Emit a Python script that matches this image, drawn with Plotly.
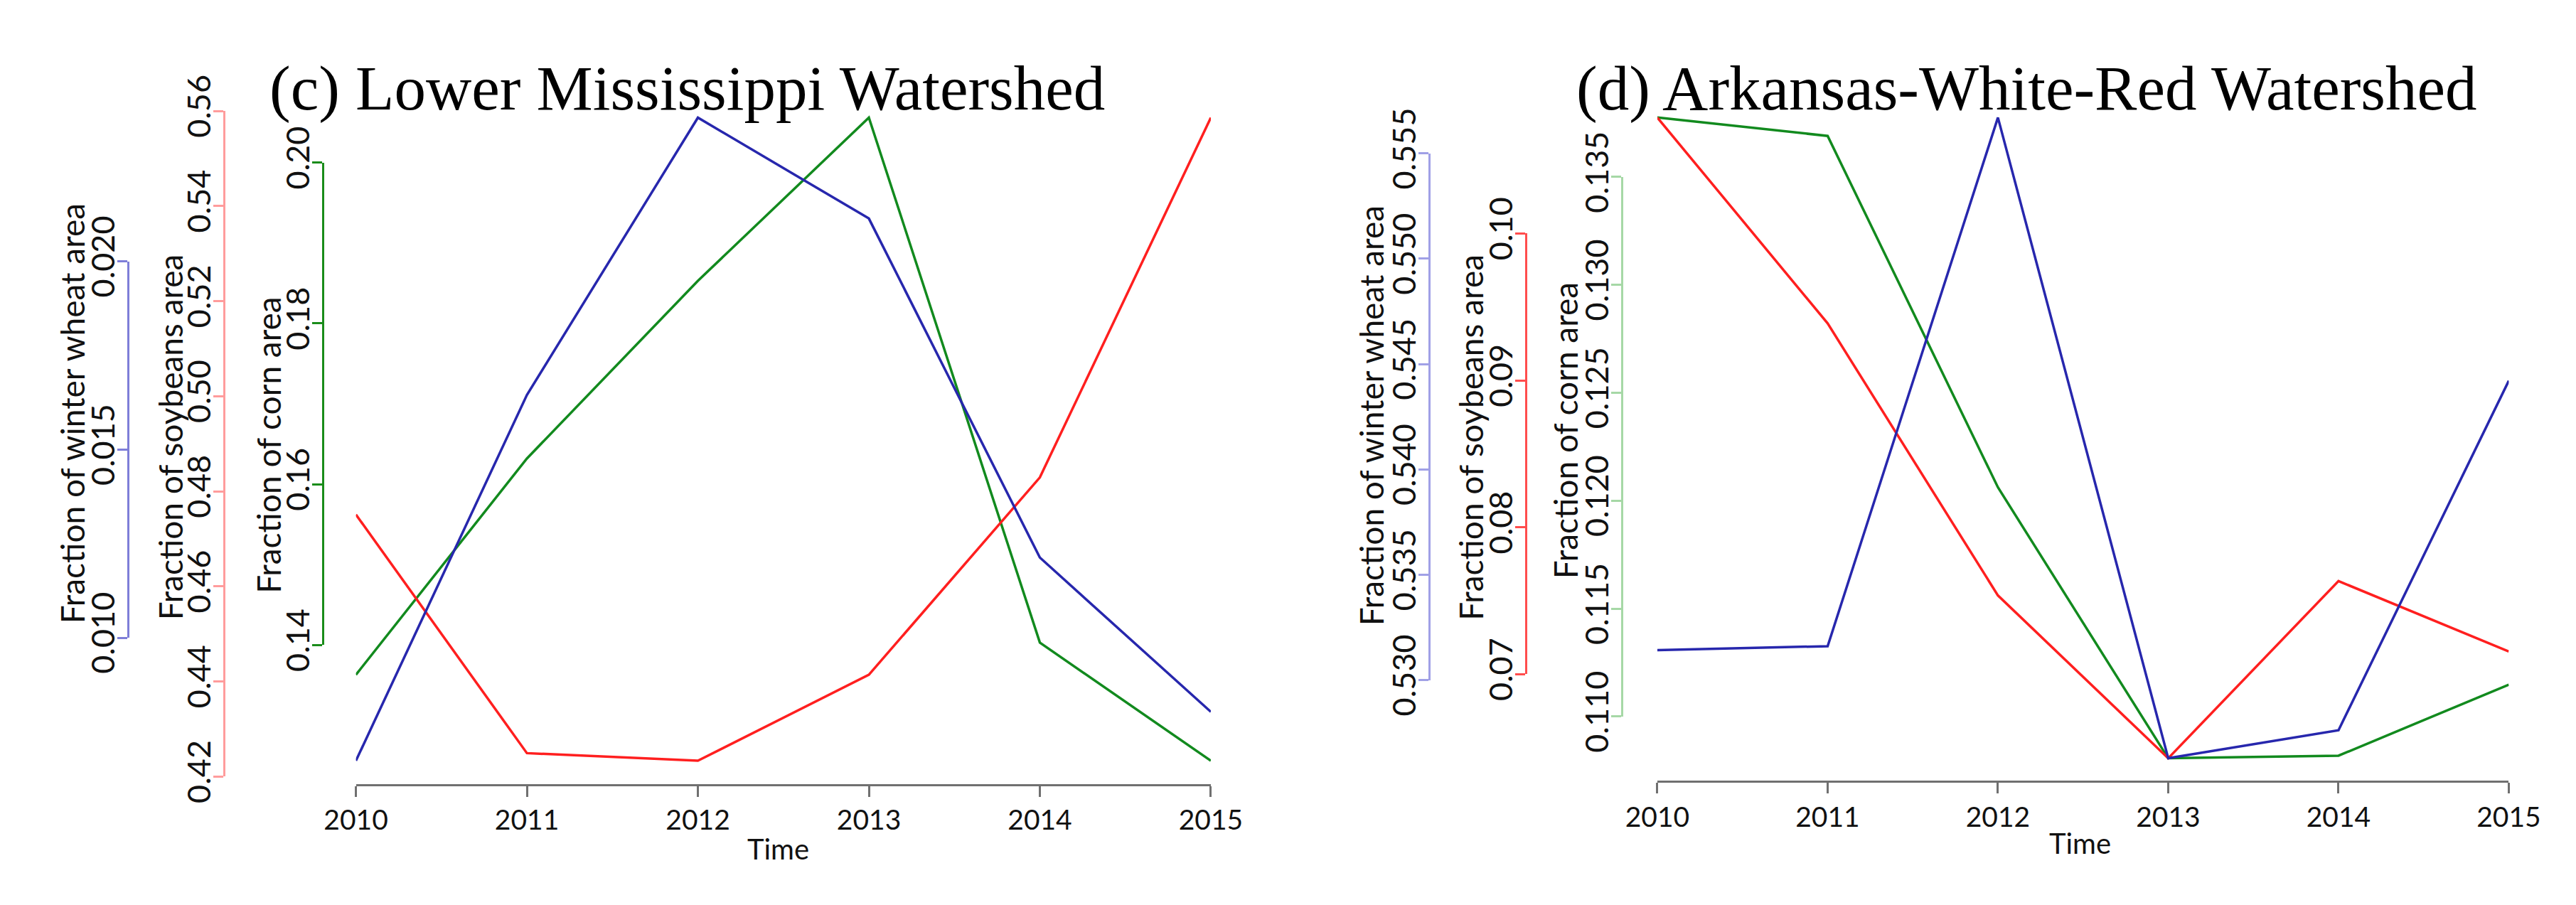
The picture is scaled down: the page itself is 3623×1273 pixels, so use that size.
import plotly.graph_objects as go

W, H = 3623, 1273

years = [2010, 2011, 2012, 2013, 2014, 2015]

# (c) Lower Mississippi Watershed
c_corn = [0.1363, 0.1632, 0.1853, 0.2056, 0.1403, 0.1256]
c_soy = [0.4751, 0.4249, 0.4233, 0.4414, 0.4829, 0.5586]
c_wheat = [0.00673, 0.01645, 0.02382, 0.02114, 0.01213, 0.00803]

# (d) Arkansas-White-Red Watershed
d_corn = [0.13775, 0.13690, 0.12062, 0.10807, 0.10819, 0.11148]
d_soy = [0.10789, 0.09388, 0.07536, 0.06428, 0.07634, 0.07155]
d_wheat = [0.53142, 0.53161, 0.55670, 0.52629, 0.52762, 0.54421]

c_corn_ticks = [0.14, 0.16, 0.18, 0.20]
c_soy_ticks = [0.42, 0.44, 0.46, 0.48, 0.50, 0.52, 0.54, 0.56]
c_wheat_ticks = [0.010, 0.015, 0.020]
d_corn_ticks = [0.110, 0.115, 0.120, 0.125, 0.130, 0.135]
d_soy_ticks = [0.07, 0.08, 0.09, 0.10]
d_wheat_ticks = [0.530, 0.535, 0.540, 0.545, 0.550, 0.555]

titles = ["(c) Lower Mississippi Watershed", "(d) Arkansas-White-Red Watershed"]
ytitles = ["Fraction of corn area", "Fraction of soybeans area", "Fraction of winter wheat area"]

BLUE, RED, GREEN = "#2727ad", "#ff1f1f", "#128a1e"
TICKFONT = "Lato"

panels = [
    dict(x0=459, x1=1692, top=63, bottom=1137, xline=1134, title_x=332, title_y=57,
         time_x=1068, time_y=1233,
         series=[
             dict(vals=c_corn, color=GREEN, acolor="#1a8c1a", ticks=c_corn_ticks, fmt="%.2f",
                  ax=411, tx=333, ty=609, title=ytitles[0]),
             dict(vals=c_soy, color=RED, acolor="#ff9c9c", ticks=c_soy_ticks, fmt="%.2f",
                  ax=269, tx=191, ty=597, title=ytitles[1]),
             dict(vals=c_wheat, color=BLUE, acolor="#7e7ed8", ticks=c_wheat_ticks, fmt="%.3f",
                  ax=130, tx=50, ty=560, title=ytitles[2]),
         ]),
    dict(x0=2336, x1=3564, top=63, bottom=1133, xline=1129, title_x=2217, title_y=57,
         time_x=2946, time_y=1225,
         series=[
             dict(vals=d_corn, color=GREEN, acolor="#a6d8a6", ticks=d_corn_ticks, fmt="%.3f",
                  ax=2285, tx=2204, ty=587, title=ytitles[0]),
             dict(vals=d_soy, color=RED, acolor="#ff4d4d", ticks=d_soy_ticks, fmt="%.2f",
                  ax=2146, tx=2066, ty=597, title=ytitles[1]),
             dict(vals=d_wheat, color=BLUE, acolor="#a0a0e6", ticks=d_wheat_ticks, fmt="%.3f",
                  ax=2007, tx=1923, ty=564, title=ytitles[2]),
         ]),
]


def padded(vals):
    lo, hi = min(vals), max(vals)
    p = 0.04 * (hi - lo)
    return lo - p, hi + p


def yname(n):
    return "y" if n == 1 else f"y{n}"


def ykey(n):
    return "yaxis" if n == 1 else f"yaxis{n}"


fig = go.Figure()
lay = {}
annotations = []
yn = 0

for pi, P in enumerate(panels):
    xref = "x" if pi == 0 else "x2"
    xkey = "xaxis" if pi == 0 else "xaxis2"
    dom = [1 - P["bottom"] / H, 1 - P["top"] / H]
    main = None
    lay[xkey] = dict(
        domain=[P["x0"] / W, P["x1"] / W], range=[years[0], years[-1]],
        anchor="free", position=1 - P["xline"] / H,
        tickmode="array", tickvals=years, ticktext=[str(y) for y in years],
        showline=True, linecolor="#707070", linewidth=3,
        ticks="outside", ticklen=15, tickwidth=3, tickcolor="#707070",
        tickfont=dict(family=TICKFONT, size=39, color="#111111"),
        showgrid=False, zeroline=False, fixedrange=True,
    )
    for S in P["series"]:
        yn += 1
        lo, hi = padded(S["vals"])
        ax = dict(range=[lo, hi], domain=dom, visible=False, anchor=xref, fixedrange=True)
        if main is None:
            main = yname(yn)
        else:
            ax["overlaying"] = main
        lay[ykey(yn)] = ax
        fig.add_trace(go.Scatter(x=years, y=S["vals"], xaxis=xref, yaxis=yname(yn),
                                 mode="lines", line=dict(color=S["color"], width=3.5),
                                 showlegend=False, hoverinfo="skip"))
        # display axis spanning only the tick range (R style)
        yn += 1
        t = S["ticks"]
        span = P["bottom"] - P["top"]

        def topx(v):
            return P["bottom"] - (v - lo) / (hi - lo) * span

        d0 = 1 - topx(t[0]) / H
        d1 = 1 - topx(t[-1]) / H
        lay[ykey(yn)] = dict(
            domain=[d0, d1], range=[t[0], t[-1]], anchor="free", position=S["ax"] / W,
            side="left", tickmode="array", tickvals=t, ticktext=[S["fmt"] % v for v in t],
            showline=True, linecolor=S["acolor"], linewidth=3,
            ticks="outside", ticklen=14, tickwidth=3, tickcolor=S["acolor"],
            ticklabelstandoff=-14,
            tickangle=-90, tickfont=dict(family=TICKFONT, size=45, color="#111111"),
            showgrid=False, zeroline=False, fixedrange=True,
        )
        fig.add_trace(go.Scatter(x=[years[0]], y=[t[0]], xaxis=xref, yaxis=yname(yn),
                                 mode="lines", showlegend=False, hoverinfo="skip"))
        annotations.append(dict(
            text=S["title"], x=S["tx"] / W, y=1 - S["ty"] / H, xref="paper", yref="paper",
            xanchor="center", yanchor="middle", textangle=-90, showarrow=False,
            font=dict(family=TICKFONT, size=46, color="#111111")))
    annotations.append(dict(
        text=titles[pi], x=P["title_x"] / W, y=1 - P["title_y"] / H, xref="paper", yref="paper",
        xanchor="left", yanchor="middle", showarrow=False,
        font=dict(family="Liberation Serif", size=89, color="black")))
    annotations.append(dict(
        text="Time", x=P["time_x"] / W, y=1 - P["time_y"] / H, xref="paper", yref="paper",
        xanchor="center", yanchor="middle", showarrow=False,
        font=dict(family=TICKFONT, size=40, color="#111111")))

fig.update_layout(
    width=W, height=H, autosize=False,
    margin=dict(l=0, r=0, t=0, b=0),
    paper_bgcolor="white", plot_bgcolor="rgba(0,0,0,0)",
    showlegend=False, annotations=annotations,
    **lay,
)

fig.write_html("out.html")
